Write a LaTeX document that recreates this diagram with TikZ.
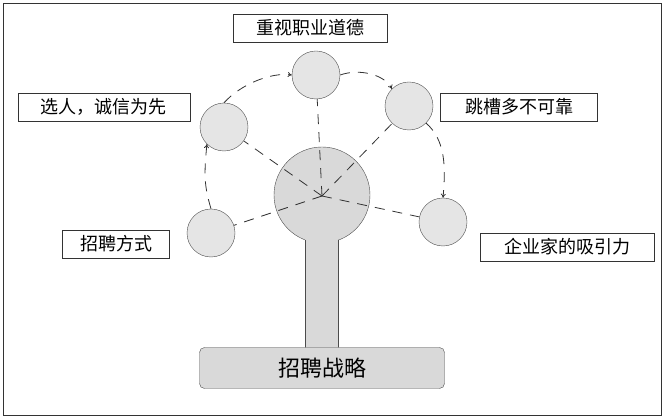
\documentclass[tikz,border=0pt]{standalone}
\usepackage{fontspec}
\usetikzlibrary{arrows.meta}
\newfontfamily\cjk{Noto Sans CJK SC}
\begin{document}
\begin{tikzpicture}[x=1pt,y=-1pt,
  sm/.style={circle,draw=black!70,fill=black!10,minimum size=48pt,inner sep=0pt},
  lbl/.style={draw=black!80,font=\cjk\fontsize{18}{20}\selectfont,inner sep=2pt,minimum height=28pt},
  dl/.style={draw=black!80,dash pattern=on 10pt off 8pt,thick},
  fl/.style={dl,->,>={To[open,length=4pt,width=5pt]}}]
\useasboundingbox (0,0) rectangle (665,419);
\draw[black!80] (3,3) rectangle (661,415);
% big shape
\node[circle,draw=black!70,fill=black!15,minimum size=96pt,inner sep=0pt] (c) at (322,195) {};
\fill[black!15] (305,230) rectangle (338,350);
\draw[black!70] (305,240) -- (305,348) (338,240) -- (338,348);
\node[draw=black!70,fill=black!15,rounded corners=5pt,minimum width=245pt,minimum height=41pt,inner sep=0pt,font=\cjk\fontsize{22}{24}\selectfont] (base) at (322,368) {招聘战略};
% small circles
\node[sm] (s1) at (211,233) {};
\node[sm] (s2) at (224,127) {};
\node[sm] (s3) at (316,75) {};
\node[sm] (s4) at (409,106) {};
\node[sm] (s5) at (443,222) {};
\coordinate (cc) at (322,196);
\foreach \s in {s1,s2,s3,s4,s5} \draw[dl] (cc) -- (\s);
% arrows
\draw[fl] (s1.north) .. controls (204,185) and (204,175) .. (s2.south west);
\draw[fl] (s2.north) .. controls (240,85) and (270,72) .. (s3.west);
\draw[fl] (s3.east) .. controls (360,68) and (385,75) .. (s4.north west);
\draw[fl] (s4.south east) .. controls (445,140) and (446,165) .. (s5.north);
% labels
\node[lbl,minimum width=154pt] (l3) at (310,28) {重视职业道德};
\node[lbl,minimum width=172pt] (l2) at (104,107) {选人，诚信为先};
\node[lbl,minimum width=157pt] (l4) at (519,107) {跳槽多不可靠};
\node[lbl,minimum width=107pt] (l1) at (116,244) {招聘方式};
\node[lbl,minimum width=174pt] (l5) at (567,247) {企业家的吸引力};
\end{tikzpicture}
\end{document}
